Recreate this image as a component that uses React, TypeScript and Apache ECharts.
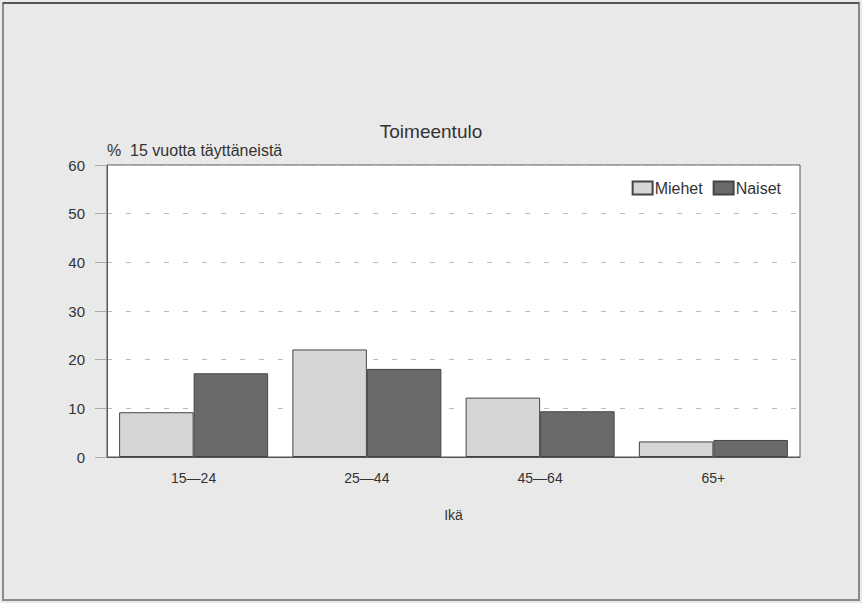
import React, { useEffect, useRef } from "react";
import * as echarts from "echarts";

const categories = ["15\u201424", "25\u201444", "45\u201464", "65+"];
const miehet = [9.2, 22.1, 12.2, 3.2];
const naiset = [17.2, 18.1, 9.4, 3.5];
const seriesNames = ["Miehet", "Naiset"];
const titleText = "Toimeentulo";
const yAxisName = "%  15 vuotta täyttäneistä";
const xAxisName = "Ikä";

export default function App() {
  const ref = useRef<HTMLDivElement>(null);
  useEffect(() => {
    if (!ref.current) return;
    const chart = echarts.init(ref.current, null, { renderer: "svg" });
    const font = "'Liberation Sans', Arial, sans-serif";
    chart.setOption({
      animation: false,
      backgroundColor: "#e9e9e9",
      textStyle: { fontFamily: font },
      graphic: [
        {
          type: "rect",
          shape: { x: 3, y: 3, width: 856, height: 597 },
          style: { fill: "none", stroke: "#8a8a8a", lineWidth: 2 },
          silent: true,
        },
        {
          type: "line",
          shape: { x1: 3, y1: 3, x2: 859, y2: 3 },
          style: { stroke: "#555", lineWidth: 2 },
          silent: true,
        },
      ],
      title: {
        text: titleText,
        left: "center",
        top: 117,
        textStyle: { fontFamily: font, fontSize: 19, fontWeight: "normal", color: "#333" },
      },
      legend: {
        data: seriesNames,
        right: 76,
        top: 175,
        icon: "rect",
        itemWidth: 20,
        itemHeight: 13,
        itemGap: 10,
        textStyle: { fontFamily: font, fontSize: 16, color: "#333", padding: [0, 0, 0, -3] },
      },
      grid: { left: 107, right: 62, top: 165, bottom: 146, show: true, backgroundColor: "#ffffff", borderColor: "#555", borderWidth: 1 },
      xAxis: {
        type: "category",
        data: categories,
        name: xAxisName,
        nameLocation: "middle",
        nameGap: 51,
        nameTextStyle: { fontFamily: font, fontSize: 14, color: "#333" },
        axisLine: { lineStyle: { color: "#555" } },
        axisTick: { show: false },
        axisLabel: { fontFamily: font, fontSize: 14, color: "#333", margin: 14 },
      },
      yAxis: {
        type: "value",
        min: 0,
        max: 60,
        interval: 10,
        name: yAxisName,
        nameLocation: "end",
        nameGap: 7,
        nameTextStyle: { fontFamily: font, fontSize: 16, color: "#333", align: "left" },
        axisLine: { show: true, lineStyle: { color: "#555" } },
        axisTick: { show: true, length: 12, lineStyle: { color: "#aaa" } },
        axisLabel: { fontFamily: font, fontSize: 15, color: "#333", margin: 22 },
        splitLine: { lineStyle: { color: "#bbb", type: [5, 14] } },
      },
      series: [
        {
          name: seriesNames[0],
          type: "bar",
          data: miehet,
          barGap: "0%",
          barCategoryGap: "14%",
          itemStyle: { color: "#d6d6d6", borderColor: "#444", borderWidth: 1 },
        },
        {
          name: seriesNames[1],
          type: "bar",
          data: naiset,
          itemStyle: { color: "#6a6a6a", borderColor: "#444", borderWidth: 1 },
        },
      ],
    });
    return () => chart.dispose();
  }, []);
  return <div ref={ref} style={{ width: 862, height: 603, position: "absolute", left: 0, top: 0 }} />;
}
